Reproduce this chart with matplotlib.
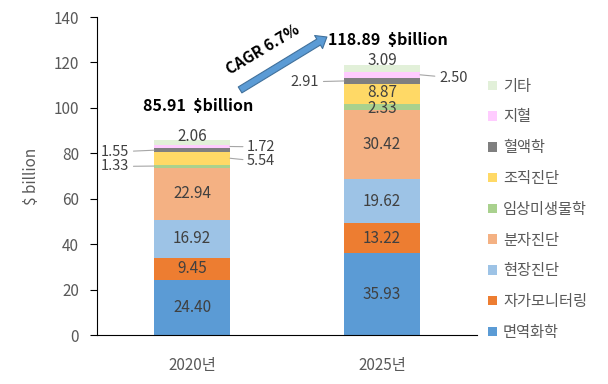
import matplotlib
matplotlib.use("Agg")
import matplotlib.pyplot as plt
import numpy as np

plt.rcParams['font.family'] = ['Noto Sans CJK KR', 'DejaVu Sans']

years = ['2020년', '2025년']
categories = ['면역화학', '자가모니터링', '현장진단', '분자진단', '임상미생물학',
              '조직진단', '혈액학', '지혈', '기타']
values_2020 = [24.40, 9.45, 16.92, 22.94, 1.33, 5.54, 1.55, 1.72, 2.06]
values_2025 = [35.93, 13.22, 19.62, 30.42, 2.33, 8.87, 2.91, 2.50, 3.09]
totals = [85.91, 118.89]
cagr = 'CAGR 6.7%'

colors = ['#5B9BD5', '#ED7D31', '#9DC3E6', '#F4B183', '#A9D18E',
          '#FFD966', '#7F7F7F', '#FFCCFF', '#E2F0D9']

fig = plt.figure(figsize=(6.08, 3.84), dpi=100)
ax = fig.add_axes([97/608, 1 - 335/384, 380/608, 318/384])

x = np.arange(len(years))
data = np.array([values_2020, values_2025])
bottom = np.zeros(len(years))
for i, cat in enumerate(categories):
    ax.bar(x, data[:, i], 0.4, bottom=bottom, color=colors[i], label=cat)
    bottom += data[:, i]

ax.set_xlim(-0.5, 1.5)
ax.set_ylim(0, 140)
ax.set_yticks(range(0, 141, 20))
ax.set_xticks(x)
ax.set_xticklabels(years)
ax.spines['top'].set_visible(False)
ax.spines['right'].set_visible(False)
ax.tick_params(axis='x', length=0, pad=16, labelsize=11, labelcolor='#595959')
ax.tick_params(axis='y', length=5, labelsize=11, labelcolor='#595959', pad=8)
ax.set_ylabel('$ billion', color='#595959', fontsize=11, labelpad=10)

lab_col = '#404040'
fs = 11
# labels inside the big segments
for j in range(len(years)):
    cum = np.cumsum(data[j]) - data[j] / 2
    for i in range(4):
        ax.text(x[j], cum[i], f'{data[j, i]:.2f}', ha='center', va='center',
                fontsize=fs, color=lab_col)

cum20 = np.cumsum(values_2020) - np.array(values_2020) / 2
cum25 = np.cumsum(values_2025) - np.array(values_2025) / 2

def side_label(xb, ytarget, xt, yt, txt, ha):
    ax.annotate(txt, xy=(xb, ytarget), xytext=(xt, yt), ha=ha, va='center',
                fontsize=10.5, color=lab_col,
                arrowprops=dict(arrowstyle='-', color='#A6A6A6', lw=0.8,
                                shrinkA=1, shrinkB=0))

# 2020 small segments
side_label(-0.2, cum20[6], -0.33, 80.6, f'{values_2020[6]:.2f}', 'right')
side_label(-0.2, cum20[4], -0.33, 74.2, f'{values_2020[4]:.2f}', 'right')
side_label(0.2, cum20[7], 0.29, 82.8, f'{values_2020[7]:.2f}', 'left')
side_label(0.2, cum20[5], 0.29, 76.4, f'{values_2020[5]:.2f}', 'left')
ax.text(0, 87.5, f'{values_2020[8]:.2f}', ha='center', va='center', fontsize=fs, color=lab_col)

# 2025 small segments
side_label(0.8, cum25[6], 0.67, 111.4, f'{values_2025[6]:.2f}', 'right')
side_label(1.2, cum25[7], 1.3, 113.2, f'{values_2025[7]:.2f}', 'left')
ax.text(1, 120.9, f'{values_2025[8]:.2f}', ha='center', va='center', fontsize=fs, color=lab_col)
ax.text(1, cum25[5] + 1.0, f'{values_2025[5]:.2f}', ha='center', va='center', fontsize=fs, color=lab_col)
ax.text(1, cum25[4] - 0.5, f'{values_2025[4]:.2f}', ha='center', va='center', fontsize=fs, color=lab_col)

# totals
ax.text(0.03, 100.8, f'{totals[0]:.2f}  $billion', ha='center', va='center',
        fontsize=11.5, fontweight='bold', color='black')
ax.text(1.03, 129.9, f'{totals[1]:.2f}  $billion', ha='center', va='center',
        fontsize=11.5, fontweight='bold', color='black')

# CAGR arrow
ax.annotate('', xy=(0.71, 131.2), xytext=(0.253, 107.9),
            arrowprops=dict(arrowstyle='simple,head_length=0.7,head_width=1.1,tail_width=0.5',
                            fc='#5B9BD5', ec='#41719C', lw=0.8, shrinkA=0, shrinkB=0),
            annotation_clip=False)
ax.text(0.37, 125.8, cagr, rotation=31, ha='center', va='center',
        fontsize=11, fontweight='bold', color='black')

handles, labels = ax.get_legend_handles_labels()
fig.legend(handles[::-1], labels[::-1], loc='upper left',
           bbox_to_anchor=(474/608, 1 - 64/384), frameon=False,
           fontsize=11, handlelength=0.6, handleheight=0.6,
           handletextpad=0.4, labelspacing=0.9, labelcolor='#595959')

fig.savefig('out.png', dpi=100)
